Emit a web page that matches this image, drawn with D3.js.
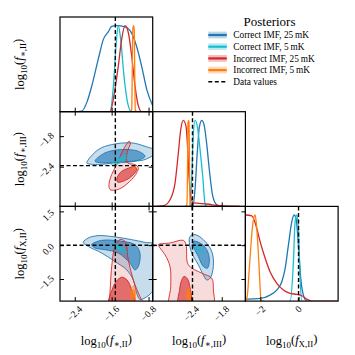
<!DOCTYPE html>
<html>
<head>
<meta charset="utf-8">
<script src="https://cdn.jsdelivr.net/npm/d3@7"></script>
<style>
  body { margin: 0; background: #fff; }
  text { font-family: "Liberation Serif", "DejaVu Serif", serif; fill: #000; }
</style>
</head>
<body>
<svg id="chart" width="355" height="355"></svg>
<script>
// ---- axis ranges and ticks ----
const xDomains = [[-2.72, -0.71], [-3.17, -1.33], [-2.78, 2.07]];
const yDomains = [null, [-3.18, -1.32], [-2.48, 1.72]];
const xTicks = [[-2.4, -1.6, -0.8], [-2.4, -1.8], [-2, 0]];
const yTicks = [null, [-1.8, -2.4], [1.5, 0.0, -1.5]];
const truths = [-1.52, -2.38, 0.0];
const paramSubs = ['∗,II', '∗,III', 'X,II'];

const seriesNames = ['Correct IMF, 25\u2009mK', 'Correct IMF, 5\u2009mK', 'Incorrect IMF, 25\u2009mK', 'Incorrect IMF, 5\u2009mK'];
const seriesColors = ['#1f77b4', '#17becf', '#d62728', '#ff7f0e'];

// ---- 1D marginals [value, normalised density] ----
const fsII_c25 = [[-2.72,0],[-2.4,0],[-2.25,0.007],[-2.13,0.12],[-2.03,0.30],[-1.89,0.61],[-1.78,0.84],[-1.67,0.93],[-1.60,0.99],[-1.49,1.0],[-1.31,0.985],[-1.17,0.916],[-1.06,0.76],[-0.95,0.53],[-0.84,0.26],[-0.71,0.07]];
const fsII_c5 = [[-1.70,0],[-1.636,0],[-1.564,0.29],[-1.506,0.76],[-1.456,1.0],[-1.404,0.84],[-1.332,0.41],[-1.239,0.07],[-1.166,0],[-1.1,0]];
const fsII_i25 = [[-1.70,0],[-1.636,0],[-1.528,0.26],[-1.456,0.53],[-1.383,0.84],[-1.311,1.0],[-1.239,0.92],[-1.166,0.65],[-1.094,0.30],[-1.022,0.07],[-0.949,0],[-0.9,0]];
const fsII_i5 = [[-1.19,0],[-1.165,0.02],[-1.152,0.5],[-1.142,0.95],[-1.126,1.0],[-1.11,0.95],[-1.10,0.5],[-1.088,0.02],[-1.06,0]];

const fsIII_c25 = [[-2.45,0],[-2.375,0],[-2.33,0.2],[-2.284,0.64],[-2.244,0.92],[-2.196,1.0],[-2.151,0.95],[-2.097,0.72],[-2.045,0.42],[-1.978,0.12],[-1.898,0.02],[-1.80,0]];
const fsIII_c5 = [[-2.46,0],[-2.429,0],[-2.395,0.35],[-2.363,0.84],[-2.33,1.0],[-2.284,0.93],[-2.23,0.66],[-2.177,0.35],[-2.131,0.03],[-2.10,0]];
const fsIII_i25 = [[-3.17,0],[-2.95,0.01],[-2.826,0.078],[-2.727,0.27],[-2.661,0.62],[-2.614,0.89],[-2.562,1.0],[-2.508,0.93],[-2.475,0.66],[-2.449,0.35],[-2.415,0.116],[-2.363,0.04],[-2.097,0.028],[-1.833,0.008],[-1.436,0]];
const fsIII_i5 = [[-2.52,0],[-2.49,0.02],[-2.478,0.5],[-2.47,0.97],[-2.459,1.0],[-2.448,0.97],[-2.44,0.5],[-2.428,0.02],[-2.40,0]];

const fXII_c25 = [[-2.78,0.023],[-2.01,0.031],[-1.49,0.07],[-1.14,0.128],[-0.876,0.224],[-0.70,0.38],[-0.53,0.65],[-0.353,0.92],[-0.233,1.0],[-0.128,0.96],[-0.007,0.65],[0.118,0.26],[0.254,0.07],[0.432,0],[0.6,0]];
const fXII_c5 = [[-0.5,0],[-0.441,0],[-0.269,0.45],[-0.18,0.92],[-0.091,1.0],[-0.007,0.85],[0.082,0.26],[0.171,0],[0.25,0]];
const fXII_i25 = [[-2.78,1.0],[-2.445,0.99],[-2.184,0.845],[-2.01,0.69],[-1.75,0.5],[-1.49,0.34],[-1.137,0.206],[-0.792,0.128],[-0.441,0.09],[-0.091,0.078],[0.171,0.062],[0.432,0.023],[0.694,0],[2.07,0]];
const fXII_i5 = [[-2.76,0],[-2.675,0.07],[-2.6,0.3],[-2.5,0.62],[-2.393,0.9],[-2.272,1.0],[-2.2,0.88],[-2.1,0.55],[-2.02,0.2],[-1.96,0],[-1.8,0]];

// ---- 2D credible contours [x, y] ----
// f*,III vs f*,II
const p21_c25_outer = [[-2.141,-2.324],[-1.890,-2.064],[-1.599,-1.966],[-1.166,-1.933],[-0.877,-2.0],[-0.62,-2.10],[-0.877,-2.26],[-1.166,-2.293],[-1.528,-2.324],[-1.890,-2.358],[-2.106,-2.344]];
const p21_c25_inner = [[-1.961,-2.293],[-1.744,-2.129],[-1.382,-2.064],[-1.022,-2.097],[-0.877,-2.195],[-1.094,-2.293],[-1.456,-2.313],[-1.816,-2.324]];
const p21_c5_outer = [[-1.614,-2.358],[-1.491,-2.26],[-1.348,-2.195],[-1.24,-2.19],[-1.311,-2.273],[-1.456,-2.338],[-1.564,-2.371]];
const p21_c5_inner = [[-1.50,-2.29],[-1.40,-2.24],[-1.32,-2.225],[-1.38,-2.26],[-1.47,-2.30]];
const p21_i25_outer = [[-1.224,-1.901],[-1.382,-2.129],[-1.491,-2.358],[-1.599,-2.553],[-1.658,-2.749],[-1.636,-2.847],[-1.528,-2.861],[-1.382,-2.814],[-1.166,-2.651],[-1.057,-2.520],[-1.022,-2.422],[-1.094,-2.358],[-1.257,-2.324],[-1.267,-2.129],[-1.192,-1.933]];
const p21_i25_inner = [[-1.491,-2.651],[-1.419,-2.520],[-1.274,-2.442],[-1.094,-2.403],[-1.057,-2.456],[-1.166,-2.587],[-1.348,-2.685],[-1.469,-2.704]];
const p21_i5_outer = [[-1.17,-2.45],[-1.12,-2.41],[-1.09,-2.395],[-1.10,-2.42],[-1.15,-2.455]];
const p21_i5_inner = [[-1.15,-2.44],[-1.11,-2.415],[-1.12,-2.43]];

// fX,II vs f*,II
const p31_c25_outer = [[-2.215,0.125],[-2.106,0.321],[-1.890,0.424],[-1.528,0.366],[-1.166,0.245],[-0.877,0.125],[-0.65,0.022],[-0.65,-1.841],[-0.840,-2.288],[-0.986,-2.404],[-1.057,-2.136],[-1.131,-1.542],[-1.274,-1.095],[-1.528,-0.724],[-1.816,-0.349],[-2.106,-0.054]];
const p31_c25_inner = [[-2.033,0.022],[-1.816,0.214],[-1.382,0.170],[-1.094,0.022],[-0.986,-0.349],[-1.022,-0.947],[-1.094,-1.095],[-1.202,-0.796],[-1.456,-0.349],[-1.744,-0.201],[-1.961,-0.125]];
const p31_c5_outer = [[-1.58,0.02],[-1.50,0.05],[-1.38,-0.1],[-1.27,-0.33],[-1.30,-0.37],[-1.42,-0.22],[-1.55,-0.06]];
const p31_c5_inner = [[-1.50,-0.03],[-1.42,-0.1],[-1.36,-0.2],[-1.40,-0.2],[-1.48,-0.1]];
const p31_i25_outer = [[-1.70,-2.7],[-1.658,-2.48],[-1.599,-0.947],[-1.528,-0.054],[-1.419,0.245],[-1.311,0.170],[-1.239,-0.648],[-1.131,-1.542],[-0.986,-2.288],[-0.90,-2.7]];
const p31_i25_inner = [[-1.66,-2.7],[-1.593,-1.99],[-1.506,-1.618],[-1.382,-1.421],[-1.267,-1.542],[-1.166,-1.99],[-1.10,-2.7]];
const p31_i5_outer = [[-1.17,-1.9],[-1.13,-1.82],[-1.095,-1.9],[-1.09,-2.2],[-1.1,-2.6],[-1.18,-2.6],[-1.18,-2.2]];
const p31_i5_inner = [[-1.15,-2.0],[-1.13,-1.95],[-1.11,-2.0],[-1.11,-2.3],[-1.15,-2.3]];

// fX,II vs f*,III
const p32_c25_outer = [[-2.429,0.393],[-2.330,0.469],[-2.165,0.245],[-1.998,-0.277],[-1.966,-0.947],[-2.031,-1.466],[-2.097,-1.542],[-2.165,-1.318],[-2.264,-0.871],[-2.395,-0.349],[-2.443,0.098]];
const p32_c25_inner = [[-2.363,0.170],[-2.230,0.098],[-2.097,-0.201],[-2.045,-0.648],[-2.085,-1.019],[-2.165,-0.947],[-2.264,-0.500],[-2.349,-0.125]];
const p32_c5_outer = [[-2.38,0.0],[-2.33,-0.02],[-2.22,-0.2],[-2.16,-0.33],[-2.19,-0.36],[-2.28,-0.22],[-2.37,-0.07]];
const p32_c5_inner = [[-2.33,-0.08],[-2.25,-0.16],[-2.22,-0.25],[-2.26,-0.22],[-2.32,-0.13]];
const p32_i25_outer = [[-3.059,0.022],[-2.826,0.098],[-2.562,0.214],[-2.508,0.022],[-2.463,-0.871],[-2.196,-1.242],[-1.998,-1.466],[-1.966,-1.989],[-1.978,-2.7],[-2.826,-2.7],[-2.812,-1.841],[-2.826,-0.947],[-2.926,-0.425],[-3.025,-0.125]];
const p32_i25_inner = [[-2.661,-2.7],[-2.637,-1.99],[-2.608,-1.631],[-2.548,-1.385],[-2.479,-1.497],[-2.429,-1.899],[-2.409,-2.7]];
const p32_i5_outer = [[-2.48,-1.95],[-2.46,-1.88],[-2.44,-1.95],[-2.44,-2.6],[-2.48,-2.6]];
const p32_i5_inner = [[-2.47,-2.0],[-2.46,-1.96],[-2.45,-2.0],[-2.45,-2.4],[-2.47,-2.4]];

const marginals = [
  [fsII_c25, fsII_c5, fsII_i25, fsII_i5],
  [fsIII_c25, fsIII_c5, fsIII_i25, fsIII_i5],
  [fXII_c25, fXII_c5, fXII_i25, fXII_i5]
];
// drawing order: blue, red, cyan, orange
const contourSets = [
  { row: 1, col: 0, sets: [[0, p21_c25_outer, p21_c25_inner], [2, p21_i25_outer, p21_i25_inner], [1, p21_c5_outer, p21_c5_inner], [3, p21_i5_outer, p21_i5_inner]] },
  { row: 2, col: 0, sets: [[0, p31_c25_outer, p31_c25_inner], [2, p31_i25_outer, p31_i25_inner], [1, p31_c5_outer, p31_c5_inner], [3, p31_i5_outer, p31_i5_inner]] },
  { row: 2, col: 1, sets: [[0, p32_c25_outer, p32_c25_inner], [2, p32_i25_outer, p32_i25_inner], [1, p32_c5_outer, p32_c5_inner], [3, p32_i5_outer, p32_i5_inner]] }
];

// ---- layout ----
const svg = d3.select('#chart');
const L = 60, T = 17, PW = 92.7, PH = 94.7;
const colX = j => L + j * PW;
const rowY = i => T + i * PH;

const xs = xDomains.map((d, j) => d3.scaleLinear().domain(d).range([colX(j), colX(j) + PW]));
const ys = yDomains.map((d, i) => d ? d3.scaleLinear().domain(d).range([rowY(i) + PH, rowY(i)]) : null);
const dens = [0, 1, 2].map(i => d3.scaleLinear().domain([0, 1.1]).range([rowY(i) + PH, rowY(i)]));

const defs = svg.append('defs');
for (let i = 0; i < 3; i++) {
  for (let j = 0; j <= i; j++) {
    defs.append('clipPath').attr('id', `clip-${i}-${j}`)
      .append('rect')
      .attr('x', colX(j)).attr('y', rowY(i))
      .attr('width', PW).attr('height', PH);
  }
}

// ---- 2D panels ----
contourSets.forEach(p => {
  const x = xs[p.col], y = ys[p.row];
  const g = svg.append('g').attr('clip-path', `url(#clip-${p.row}-${p.col})`);
  const area = d3.line().x(d => x(d[0])).y(d => y(d[1])).curve(d3.curveCatmullRomClosed.alpha(0.5));
  p.sets.forEach(([s, outer, inner]) => {
    g.append('path').attr('d', area(outer))
      .attr('fill', seriesColors[s]).attr('fill-opacity', s === 2 ? 0.16 : 0.25)
      .attr('stroke', seriesColors[s]).attr('stroke-width', 0.9);
    g.append('path').attr('d', area(inner))
      .attr('fill', seriesColors[s]).attr('fill-opacity', 0.62)
      .attr('stroke', seriesColors[s]).attr('stroke-width', 0.9);
  });
  g.append('line')
    .attr('x1', x(truths[p.col])).attr('x2', x(truths[p.col]))
    .attr('y1', rowY(p.row)).attr('y2', rowY(p.row) + PH)
    .attr('stroke', '#000').attr('stroke-width', 1.4).attr('stroke-dasharray', '4,2.5');
  g.append('line')
    .attr('x1', colX(p.col)).attr('x2', colX(p.col) + PW)
    .attr('y1', y(truths[p.row])).attr('y2', y(truths[p.row]))
    .attr('stroke', '#000').attr('stroke-width', 1.4).attr('stroke-dasharray', '4,2.5');
});

// ---- diagonal panels ----
[0, 1, 2].forEach(i => {
  const x = xs[i], y = dens[i];
  const g = svg.append('g').attr('clip-path', `url(#clip-${i}-${i})`);
  const line = d3.line().x(d => x(d[0])).y(d => y(d[1])).curve(d3.curveMonotoneX);
  [0, 1, 2, 3].forEach(s => {
    g.append('path').attr('d', line(marginals[i][s]))
      .attr('fill', 'none').attr('stroke', seriesColors[s]).attr('stroke-width', 1.3);
  });
  g.append('line')
    .attr('x1', x(truths[i])).attr('x2', x(truths[i]))
    .attr('y1', rowY(i)).attr('y2', rowY(i) + PH)
    .attr('stroke', '#000').attr('stroke-width', 1.4).attr('stroke-dasharray', '4,2.5');
});

// ---- ticks (inward) and frames ----
function ticks(axis, tr) {
  const a = svg.append('g').attr('transform', tr).call(axis);
  a.select('.domain').remove();
  a.selectAll('line').attr('stroke', '#000').attr('stroke-width', 1);
}
for (let i = 0; i < 3; i++) {
  for (let j = 0; j <= i; j++) {
    const x = xs[j];
    ticks(d3.axisBottom(x).tickValues(xTicks[j]).tickSize(-4).tickFormat(''), `translate(0,${rowY(i) + PH})`);
    if (i !== j) {
      ticks(d3.axisTop(x).tickValues(xTicks[j]).tickSize(-4).tickFormat(''), `translate(0,${rowY(i)})`);
      ticks(d3.axisLeft(ys[i]).tickValues(yTicks[i]).tickSize(-4).tickFormat(''), `translate(${colX(j)},0)`);
      ticks(d3.axisRight(ys[i]).tickValues(yTicks[i]).tickSize(-4).tickFormat(''), `translate(${colX(j) + PW},0)`);
    }
    svg.append('rect')
      .attr('x', colX(j)).attr('y', rowY(i)).attr('width', PW).attr('height', PH)
      .attr('fill', 'none').attr('stroke', '#000').attr('stroke-width', 1.2);
  }
}

// ---- tick labels ----
const fmtX = [d3.format('.1f'), d3.format('.1f'), d3.format('.0f')];
xTicks.forEach((tv, j) => {
  tv.forEach(v => {
    const t = svg.append('text')
      .attr('font-size', 9.5).attr('text-anchor', 'middle').attr('dominant-baseline', 'central')
      .text(fmtX[j](v));
    const w = t.node().getComputedTextLength();
    const half = (w + 7) / (2 * Math.SQRT2);
    t.attr('transform', `translate(${xs[j](v)},${rowY(3) + 4 + half}) rotate(-45)`);
  });
});
[1, 2].forEach(i => {
  yTicks[i].forEach(v => {
    const t = svg.append('text')
      .attr('font-size', 9.5).attr('text-anchor', 'middle').attr('dominant-baseline', 'central')
      .text(d3.format('.1f')(v));
    const w = t.node().getComputedTextLength();
    const half = (w + 7) / (2 * Math.SQRT2);
    t.attr('transform', `translate(${L - 5 - half},${ys[i](v) + 4}) rotate(-45)`);
  });
});

// ---- axis labels ----
function paramLabel(t, sub) {
  t.append('tspan').text('log');
  t.append('tspan').attr('font-size', '0.72em').attr('dy', '0.32em').text('10');
  t.append('tspan').attr('dy', '-0.32em').text('(');
  t.append('tspan').attr('font-style', 'italic').text('f');
  t.append('tspan').attr('font-size', '0.72em').attr('dy', '0.32em').text(sub);
  t.append('tspan').attr('dy', '-0.32em').text(')');
}
paramSubs.forEach((sub, k) => {
  const tx = svg.append('text').attr('font-size', 12.5).attr('text-anchor', 'middle')
    .attr('x', colX(k) + PW / 2).attr('y', 345);
  paramLabel(tx, sub);
  const ty = svg.append('text').attr('font-size', 12.5).attr('text-anchor', 'middle')
    .attr('transform', `translate(24,${rowY(k) + PH / 2}) rotate(-90)`);
  paramLabel(ty, sub);
});

// ---- legend ----
const leg = svg.append('g');
leg.append('text').attr('x', 269.5).attr('y', 26).attr('text-anchor', 'middle')
  .attr('font-size', 13).text('Posteriors');
seriesNames.forEach((name, s) => {
  const cy = 35 + s * 11.7;
  leg.append('rect').attr('x', 208.3).attr('y', cy - 3.4).attr('width', 18.5).attr('height', 6.8)
    .attr('fill', seriesColors[s]).attr('fill-opacity', 0.3);
  leg.append('line').attr('x1', 208.3).attr('x2', 226.8).attr('y1', cy).attr('y2', cy)
    .attr('stroke', seriesColors[s]).attr('stroke-width', 2.2);
  leg.append('text').attr('x', 233.3).attr('y', cy + 3.2).attr('font-size', 9.3).text(name);
});
{
  const cy = 35 + 4 * 11.7;
  leg.append('line').attr('x1', 208.3).attr('x2', 226.8).attr('y1', cy).attr('y2', cy)
    .attr('stroke', '#000').attr('stroke-width', 1.6).attr('stroke-dasharray', '4,2.5');
  leg.append('text').attr('x', 233.3).attr('y', cy + 3.2).attr('font-size', 9.3).text('Data values');
}
</script>
</body>
</html>
